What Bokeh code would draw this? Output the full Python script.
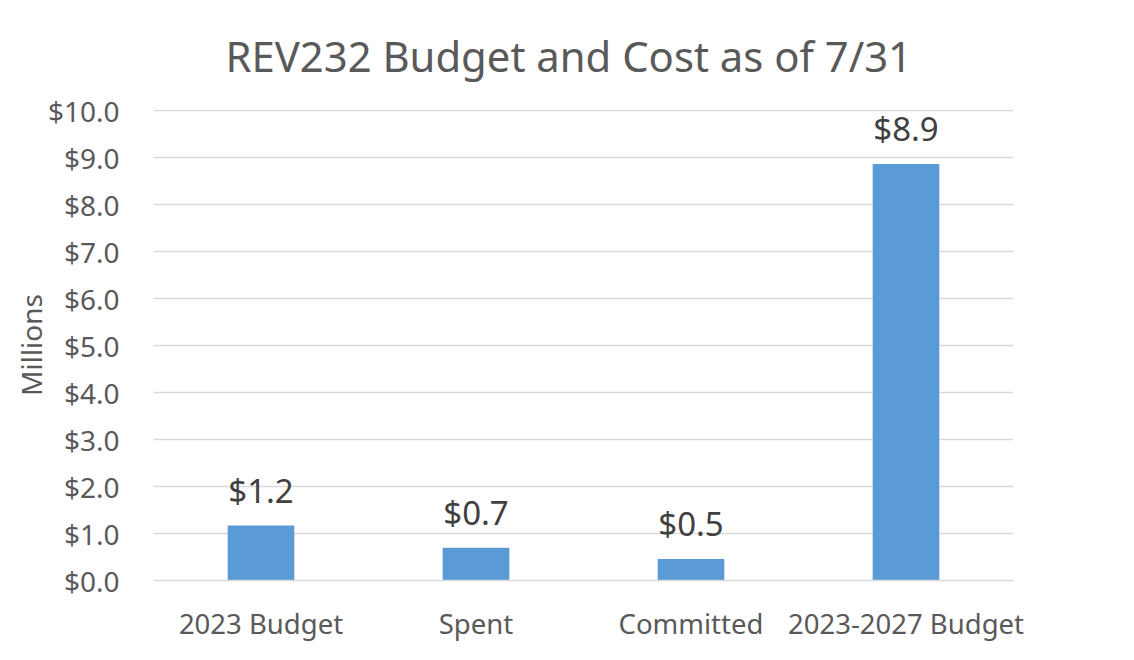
from bokeh.plotting import figure
from bokeh.models import ColumnDataSource, NumeralTickFormatter, Range1d, FixedTicker
from bokeh.core.properties import value
from bokeh.embed import file_html
from bokeh.resources import INLINE

categories = ["2023 Budget", "Spent", "Committed", "2023-2027 Budget"]
amounts = [1.17, 0.70, 0.46, 8.87]
amount_labels = ["$1.2", "$0.7", "$0.5", "$8.9"]
y_ticks = [0, 1, 2, 3, 4, 5, 6, 7, 8, 9, 10]
title_text = "REV232 Budget and Cost as of 7/31"

FONT = "Noto Sans"
GREY = "#595959"

src = ColumnDataSource(dict(cat=categories, val=amounts, lab=amount_labels))

p = figure(x_range=categories, y_range=Range1d(0, 10.03), width=1118, height=644,
           output_backend="svg", toolbar_location=None, title=title_text,
           min_border_left=153, min_border_right=105, min_border_top=103, min_border_bottom=62)

p.title.text_font = FONT
p.title.text_font_size = "41.8px"
p.title.text_font_style = "normal"
p.title.text_color = GREY
p.title.align = "left"
p.title.vertical_align = "middle"
p.title.offset = 72
p.title.standoff = 50

p.vbar(x="cat", top="val", width=0.31, source=src, color="#5B9BD5", line_color=None)
p.text(x="cat", y="val", text="lab", source=src, text_align="center", text_baseline="bottom",
       y_offset=-13, text_font=value(FONT), text_font_size="33px", text_color="#404040")

p.outline_line_color = None
p.background_fill_color = "white"
p.border_fill_color = "white"

p.xgrid.grid_line_color = None
p.ygrid.grid_line_color = "#D9D9D9"
p.ygrid.grid_line_width = 1.5
p.yaxis.ticker = FixedTicker(ticks=y_ticks)
p.yaxis.formatter = NumeralTickFormatter(format="$0.0")
p.yaxis.axis_line_color = None
p.yaxis.major_tick_line_color = None
p.yaxis.minor_tick_line_color = None
p.yaxis.major_label_standoff = 28
p.yaxis.major_label_text_font = FONT
p.yaxis.major_label_text_font_size = "28px"
p.yaxis.major_label_text_color = GREY
p.yaxis.axis_label = "Millions"
p.yaxis.axis_label_text_font = FONT
p.yaxis.axis_label_text_font_size = "28px"
p.yaxis.axis_label_text_font_style = "normal"
p.yaxis.axis_label_text_color = GREY
p.yaxis.axis_label_standoff = -5

p.xaxis.axis_line_color = "#D9D9D9"
p.xaxis.axis_line_width = 1.5
p.xaxis.major_tick_line_color = None
p.xaxis.minor_tick_line_color = None
p.xaxis.major_label_standoff = 18
p.xaxis.major_label_text_font = FONT
p.xaxis.major_label_text_font_size = "27.5px"
p.xaxis.major_label_text_color = GREY
p.x_range.range_padding = 0

open("out.html", "w").write(file_html(p, INLINE))
